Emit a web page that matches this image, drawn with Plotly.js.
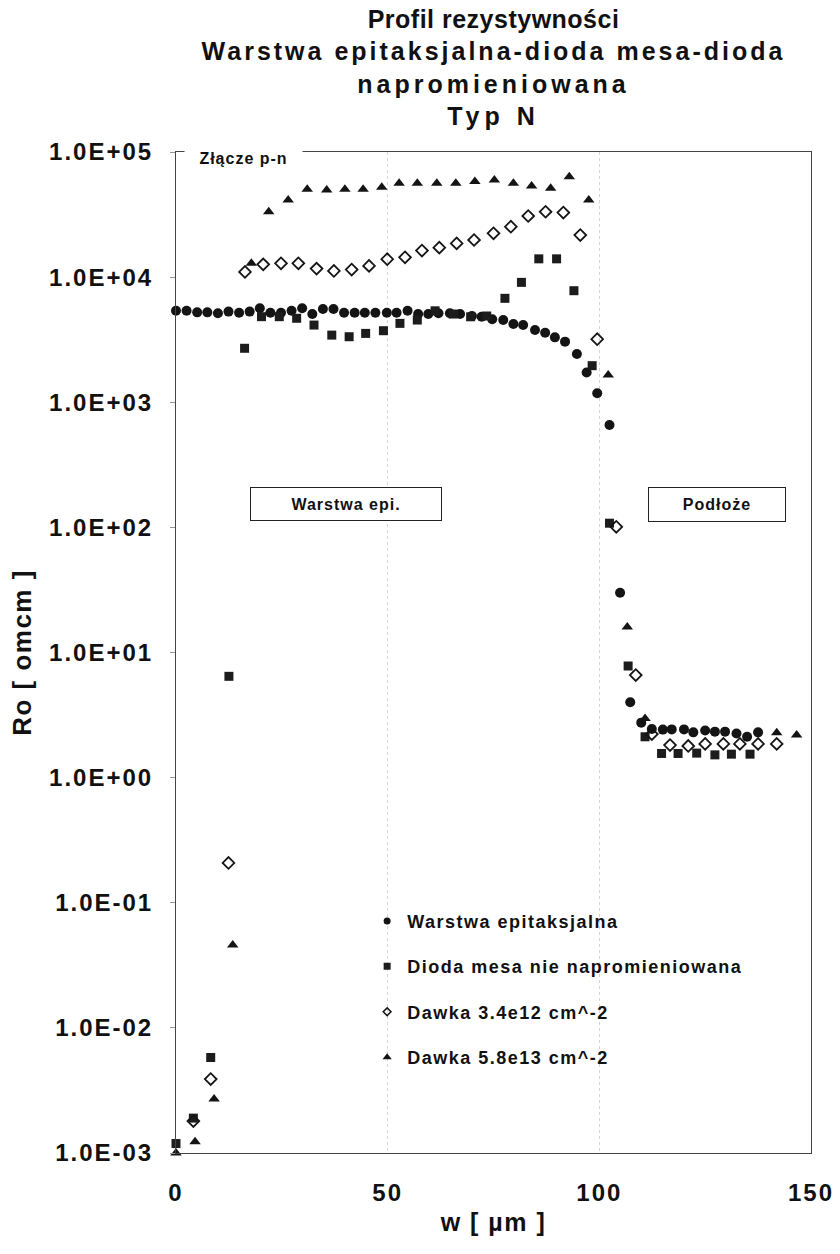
<!DOCTYPE html>
<html>
<head>
<meta charset="utf-8">
<script src="https://cdn.plot.ly/plotly-3.0.1.min.js"></script>
<style>
  html, body { margin: 0; padding: 0; background: #fff; }
  #chart { width: 840px; height: 1254px; }
  .ytick text, .xtick text { letter-spacing: 2px; }
  .gtitle { letter-spacing: 0.5px; }
  .gtitle tspan.line:nth-of-type(2) { letter-spacing: 3px; }
  .gtitle tspan.line:nth-of-type(3) { letter-spacing: 4px; }
  .gtitle tspan.line:nth-of-type(4) { letter-spacing: 5px; }
  .legendtext { letter-spacing: 1.5px; }
  .annotation-text { letter-spacing: 1px; }
  .ytitle, .xtitle { letter-spacing: 1.5px; }
</style>
</head>
<body>
<div id="chart"></div>
<script>
// ---- Data ----
const seriesNames = [
  "Warstwa epitaksjalna",
  "Dioda mesa nie napromieniowana",
  "Dawka 3.4e12 cm^-2",
  "Dawka 5.8e13 cm^-2"
];

// Warstwa epitaksjalna (filled circles)
const xEpi = [0, 2.5, 5, 7.4, 9.9, 12.4, 14.9, 17.4, 19.8, 22.3, 24.8, 27.3, 29.8, 32.2, 34.7, 37.2, 39.7, 42.2, 44.6, 47.1, 49.8,
              52.1, 54.7, 57.2, 59.6, 62, 64.7, 67.1, 69.9, 72.2, 74.7, 77.3, 79.7, 82, 84.8, 87.2, 89.5, 91.9, 94.7, 97, 99.5,
              102.4, 104.9, 107.3, 109.9, 112.4, 115, 117.1, 120, 122.2, 125, 127.3, 129.7, 132.4, 134.9, 137.5];
const yEpi = [5380, 5380, 5230, 5230, 5150, 5300, 5190, 5300, 5640, 5190, 5190, 5380, 5640, 5070, 5560, 5560, 5190, 5190, 5190, 5190, 5190,
              5190, 5380, 5070, 5070, 5150, 5150, 5070, 4890, 4820, 4600, 4540, 4220, 4140, 3780, 3590, 3300, 3050, 2430, 1730, 1180,
              658, 30, 4.0, 2.75, 2.45, 2.42, 2.43, 2.43, 2.3, 2.38, 2.33, 2.33, 2.25, 2.12, 2.3];

// Dioda mesa nie napromieniowana (filled squares)
const xMesa = [0, 4.1, 8.2, 12.5, 16.2, 20.2, 24.4, 28.5, 32.6, 36.8, 40.9, 44.8, 49, 52.9, 57, 61.2, 65.5, 69.6, 73.4, 77.7,
               81.6, 85.7, 89.9, 94, 98.3, 102.4, 106.8, 110.8, 114.7, 118.6, 123, 127.3, 131.2, 135.6];
const yMesa = [0.00119, 0.0019, 0.0058, 6.45, 2700, 4830, 4830, 4690, 4140, 3440, 3340, 3550, 3730, 4270, 4540, 5380, 5070, 4820, 4890, 6770,
               9080, 14000, 14000, 7790, 1960, 108, 7.8, 2.12, 1.56, 1.56, 1.57, 1.52, 1.54, 1.54];

// Dawka 3.4e12 cm^-2 (open diamonds)
const xD1 = [4.1, 8.2, 12.4, 16.3, 20.6, 24.8, 28.9, 33.2, 37.3, 41.5, 45.6, 49.9, 54.1, 58.1, 62.2, 66.3, 70.4, 75, 79.1, 83.2,
             87.3, 91.5, 95.5, 99.5, 104, 108.6, 112.4, 116.7, 121, 125, 129.3, 133.2, 137.5, 141.9];
const yD1 = [0.0018, 0.0039, 0.208, 11000, 12650, 12900, 12900, 11700, 11200, 11500, 12300, 13900, 14400, 16300, 17200, 18600, 19800, 22400, 25300, 30800,
             33300, 32800, 21700, 3190, 101, 6.6, 2.23, 1.82, 1.79, 1.86, 1.86, 1.86, 1.86, 1.86];

// Dawka 5.8e13 cm^-2 (filled triangles)
const xD2 = [0, 4.5, 9, 13.4, 17.8, 21.9, 26.5, 31, 35.6, 39.9, 44.2, 48.6, 52.7, 57, 61.6, 66.1, 70.6, 75.2, 79.7, 84,
             88.5, 92.9, 97.5, 102.1, 106.6, 110.8, 141.9, 146.6];
const yD2 = [0.001, 0.00123, 0.0027, 0.046, 12900, 33300, 41300, 50300, 49700, 50300, 50300, 52200, 56200, 56200, 56200, 56200, 58000, 59700, 56200, 53500,
             51300, 63500, 41300, 1650, 16, 2.97, 2.28, 2.19];

// Axis ticks
const yTickVals = [1e-3, 1e-2, 1e-1, 1e0, 1e1, 1e2, 1e3, 1e4, 1e5];
const yTickText = ["1.0E-03", "1.0E-02", "1.0E-01", "1.0E+00", "1.0E+01", "1.0E+02", "1.0E+03", "1.0E+04", "1.0E+05"];
const xTickVals = [0, 50, 100, 150];
const xTickText = ["0", "50", "100", "150"];

// ---- Chart ----
const FONT = "Liberation Sans, Arial, Helvetica, sans-serif";
const INK = "#141414";

const styles = [
  { symbol: "circle", color: INK },
  { symbol: "square", color: "#1c1c1c" },
  { symbol: "diamond-open", color: INK, line: { width: 1.8, color: INK } },
  { symbol: "triangle-up", color: INK }
];
const dataSizes = [10, 9, 9, 10];
const legendSizes = [7, 7, 6, 8];
const xs = [xEpi, xMesa, xD1, xD2];
const ys = [yEpi, yMesa, yD1, yD2];

const traces = [];
// data marks
for (let i = 0; i < 4; i++) {
  traces.push({
    type: "scatter", mode: "markers", cliponaxis: false,
    x: xs[i], y: ys[i], name: seriesNames[i], showlegend: false,
    marker: Object.assign({}, styles[i], { size: dataSizes[i] })
  });
}
// legend entries (smaller legend symbols, as in the reference)
for (let i = 0; i < 4; i++) {
  traces.push({
    type: "scatter", mode: "markers",
    x: [null], y: [null], name: seriesNames[i], legendgroup: "g" + i, showlegend: true,
    marker: Object.assign({}, styles[i], { size: legendSizes[i],
      line: styles[i].line ? { width: 1.5, color: INK } : undefined })
  });
}

const layout = {
  width: 840, height: 1254,
  paper_bgcolor: "#ffffff", plot_bgcolor: "#ffffff",
  font: { family: FONT, color: "#111", weight: "bold" },
  margin: { l: 176, r: 29, t: 152, b: 101, pad: 0 },
  title: {
    text: "Profil rezystywności<br>Warstwa epitaksjalna-dioda mesa-dioda<br>napromieniowana<br>Typ N",
    font: { family: FONT, size: 25, color: "#111", weight: "bold" },
    x: 0.5, xref: "paper", xanchor: "center",
    y: 0.978, yref: "container", yanchor: "top"
  },
  xaxis: {
    range: [0, 150], tickvals: xTickVals, ticktext: xTickText,
    showline: true, mirror: true, linecolor: "#444", linewidth: 1,
    ticks: "", showgrid: true, gridcolor: "#d4d4d4", griddash: "dot", gridwidth: 1,
    zeroline: false,
    tickfont: { family: FONT, size: 24, color: "#111", weight: "bold" },
    ticklabelstandoff: 18,
    title: { text: "w [ µm ]", font: { family: FONT, size: 25, color: "#111", weight: "bold" }, standoff: 8 },
    automargin: false
  },
  yaxis: {
    type: "log", range: [-3, 5], tickvals: yTickVals, ticktext: yTickText,
    showline: true, mirror: true, linecolor: "#444", linewidth: 1,
    ticks: "outside", ticklen: 5, tickcolor: "#999",
    showgrid: false, zeroline: false,
    tickfont: { family: FONT, size: 24, color: "#111", weight: "bold" },
    ticklabelstandoff: 12,
    title: { text: "Ro [ omcm ]", font: { family: FONT, size: 26, color: "#111", weight: "bold" }, standoff: 10 },
    automargin: false
  },
  showlegend: true,
  legend: {
    x: 0.301, xanchor: "left", y: 0.25, yanchor: "top",
    bgcolor: "rgba(0,0,0,0)", borderwidth: 0,
    font: { family: FONT, size: 18, color: "#111", weight: "bold" },
    traceorder: "grouped", tracegroupgap: 19, itemwidth: 30
  },
  annotations: [
    { text: "Złącze p-n", xref: "paper", yref: "paper", x: 0.107, y: 0.994,
      xanchor: "center", yanchor: "middle", showarrow: false,
      bgcolor: "#ffffff", width: 113, borderpad: 2,
      font: { family: FONT, size: 16, color: "#111", weight: "bold" } },
    { text: "Warstwa epi.", xref: "paper", yref: "paper", x: 0.2677, y: 0.6484,
      xanchor: "center", yanchor: "middle", showarrow: false,
      bgcolor: "#ffffff", bordercolor: "#222", borderwidth: 1, borderpad: 0,
      width: 190, height: 32,
      font: { family: FONT, size: 16, color: "#111", weight: "bold" } },
    { text: "Podłoże", xref: "paper", yref: "paper", x: 0.852, y: 0.648,
      xanchor: "center", yanchor: "middle", showarrow: false,
      bgcolor: "#ffffff", bordercolor: "#222", borderwidth: 1, borderpad: 0,
      width: 136, height: 33,
      font: { family: FONT, size: 16, color: "#111", weight: "bold" } }
  ]
};

Plotly.newPlot("chart", traces, layout, { staticPlot: true, displayModeBar: false });
</script>
</body>
</html>
